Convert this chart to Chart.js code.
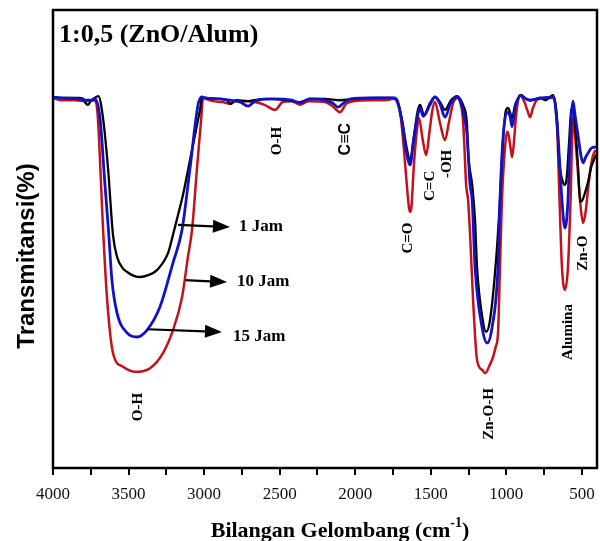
<!DOCTYPE html>
<html><head><meta charset="utf-8">
<script src="https://cdn.jsdelivr.net/npm/chart.js@4.4.1/dist/chart.umd.min.js"></script>
<style>html,body{margin:0;padding:0;background:#fff}#wrap{width:600px;height:541px}</style>
</head><body><div id="wrap"><canvas id="c" width="600" height="541"></canvas></div>
<script>
// ---- data (wavenumber cm-1, transmittance %) ----
const xTickValues = [500,750,1000,1250,1500,1750,2000,2250,2500,2750,3000,3250,3500,3750,4000];
const xTickLabels = [500,1000,1500,2000,2500,3000,3500,4000];

const jam1Black = [[4000,81.0],[3950,80.8],[3830,80.8],[3800,80.6],[3785,79.7],[3768,79.3],[3750,80.1],[3725,80.8],[3700,81.2],[3669,76.4],[3636,65.5],[3603,50.9],[3576,46.1],[3540,43.7],[3510,42.8],[3460,41.9],[3424,41.7],[3370,42.1],[3312,43.2],[3239,46.9],[3206,50.9],[3173,55.2],[3140,59.6],[3090,67.8],[3047,74.9],[3025,78.6],[3014,81.0],[2994,80.8],[2900,80.6],[2850,80.3],[2825,79.5],[2790,80.3],[2709,80.1],[2600,80.6],[2450,80.3],[2365,79.9],[2300,80.6],[2200,80.6],[2100,80.3],[2000,80.6],[1850,80.8],[1745,80.8],[1720,80.0],[1690,76.0],[1660,70.0],[1637,67.2],[1611,72.7],[1585,78.2],[1571,79.3],[1545,77.1],[1505,79.7],[1472,81.0],[1439,79.9],[1406,78.2],[1366,80.3],[1326,81.2],[1300,80.3],[1287,79.3],[1260,74.9],[1253,69.0],[1226,61.8],[1207,54.0],[1194,43.9],[1154,31.9],[1134,29.7],[1108,32.3],[1068,45.4],[1042,58.5],[1022,71.6],[1002,78.2],[989,78.6],[976,77.7],[962,76.4],[942,79.3],[920,80.8],[905,81.4],[870,80.6],[843,80.3],[800,80.6],[777,80.8],[740,80.3],[711,81.0],[691,81.4],[665,76.4],[650,67.0],[625,62.4],[612,61.8],[600,63.5],[585,71.0],[570,78.2],[559,78.6],[540,72.7],[525,65.5],[512,58.1],[500,58.3],[480,60.0],[459,62.5],[440,65.5],[426,66.8],[405,68.5]];

const jam10Red = [[4000,80.8],[3950,80.3],[3850,80.3],[3790,80.1],[3735,80.3],[3716,79.9],[3703,76.4],[3669,52.4],[3643,37.3],[3603,25.1],[3537,22.1],[3457,21.0],[3358,21.8],[3272,25.1],[3206,30.1],[3146,37.3],[3107,46.1],[3080,52.0],[3047,65.5],[3020,76.0],[3007,80.8],[2990,80.6],[2940,80.1],[2880,79.9],[2829,79.5],[2790,80.1],[2709,80.1],[2663,79.9],[2600,79.3],[2531,78.2],[2480,79.9],[2420,80.1],[2365,79.3],[2310,80.1],[2200,79.9],[2150,79.0],[2101,77.7],[2060,79.5],[2010,80.1],[1900,80.3],[1800,80.3],[1745,80.6],[1725,80.1],[1700,77.0],[1680,70.5],[1660,62.4],[1645,57.0],[1637,55.9],[1628,57.0],[1612,66.0],[1595,72.7],[1578,76.4],[1555,72.0],[1530,68.3],[1510,73.0],[1490,78.0],[1472,79.9],[1440,75.5],[1406,71.6],[1380,75.5],[1350,79.9],[1326,80.8],[1306,79.9],[1290,77.1],[1280,72.0],[1266,61.8],[1253,58.5],[1240,51.0],[1220,36.7],[1194,23.6],[1160,21.4],[1140,20.7],[1110,22.5],[1088,24.2],[1070,26.5],[1055,29.5],[1042,43.9],[1029,58.5],[1009,69.9],[995,73.4],[985,72.7],[970,69.4],[962,67.9],[950,71.0],[935,77.1],[909,81.4],[880,79.9],[860,78.0],[843,76.6],[825,78.5],[800,80.3],[777,80.6],[711,80.8],[691,80.8],[665,75.0],[648,58.5],[632,43.9],[612,38.9],[592,43.9],[575,58.5],[559,76.4],[540,70.5],[525,64.0],[505,56.0],[492,53.5],[475,56.0],[459,61.0],[440,66.0],[426,68.3],[410,69.4]];

const jam15Blue = [[4000,81.0],[3950,80.8],[3830,80.6],[3790,80.3],[3745,80.3],[3722,80.6],[3689,76.4],[3656,61.8],[3632,51.5],[3610,41.0],[3576,33.8],[3510,29.5],[3444,28.6],[3378,30.1],[3292,35.2],[3206,44.8],[3146,52.0],[3093,65.5],[3040,79.3],[3014,81.0],[2994,80.8],[2900,80.6],[2829,80.3],[2760,79.9],[2709,79.0],[2663,80.1],[2550,80.6],[2420,80.3],[2365,79.7],[2300,80.6],[2200,80.3],[2150,79.7],[2114,78.8],[2070,79.9],[2030,80.6],[1900,80.8],[1745,80.8],[1720,80.1],[1690,75.5],[1660,68.8],[1637,66.2],[1615,71.0],[1590,76.4],[1571,78.6],[1550,76.8],[1505,79.3],[1472,81.0],[1439,79.5],[1406,76.6],[1370,79.5],[1326,81.0],[1306,80.3],[1280,77.0],[1260,72.7],[1240,61.8],[1226,58.5],[1207,43.9],[1161,30.8],[1127,27.3],[1094,30.8],[1055,43.9],[1042,58.5],[1022,72.0],[995,77.7],[976,76.9],[962,74.5],[942,78.6],[920,80.8],[905,81.4],[870,80.6],[843,80.3],[777,80.8],[711,81.0],[691,81.2],[665,75.5],[645,65.5],[632,58.5],[612,52.4],[592,58.5],[580,70.0],[559,80.1],[545,77.0],[526,72.7],[505,68.0],[492,66.6],[475,67.9],[459,68.8],[435,69.9],[405,70.1]];

// ---- annotations (in data units) ----
const peakLabels = [
  {text:'O-H', wn:2518, t:71.4},
  {text:'C\u2261C', wn:2061, t:71.8, sans:true},
  {text:'C=O', wn:1651, t:50.2},
  {text:'C=C', wn:1505, t:61.6},
  {text:'-OH', wn:1393, t:66.4},
  {text:'Zn-O-H', wn:1115, t:11.8},
  {text:'Alumina', wn:592, t:29.7},
  {text:'Zn-O', wn:492, t:46.9},
  {text:'O-H', wn:3437, t:13.3}
];
const arrowLabels = [
  {text:'1 Jam', fromWn:3173, fromT:53.1, toWn:2829, toT:52.6, textWn:2769, textT:52.6},
  {text:'10 Jam', fromWn:3126, fromT:41.0, toWn:2848, toT:40.6, textWn:2782, textT:40.6},
  {text:'15 Jam', fromWn:3378, fromT:30.3, toWn:2882, toT:29.7, textWn:2809, textT:28.6}
];

const SERIF = '"Liberation Serif","Times New Roman",serif';
const SANS = '"Liberation Sans",Arial,sans-serif';

const toPts = arr => arr.map(p => ({x:p[0], y:p[1]}));

const decor = {
  id:'decor',
  afterDraw(chart){
    const {ctx, chartArea:a, scales:{x, y}} = chart;
    ctx.save();
    // frame
    ctx.strokeStyle = '#000'; ctx.lineWidth = 2.5;
    ctx.strokeRect(a.left, a.top, a.right - a.left, a.bottom - a.top);
    ctx.fillStyle = '#000';
    // title
    ctx.font = 'bold 26px ' + SERIF;
    ctx.textAlign = 'left'; ctx.textBaseline = 'alphabetic';
    ctx.fillText('1:0,5 (ZnO/Alum)', a.left + 6, a.top + 32);
    // peak labels (rotated)
    for (const l of peakLabels){
      ctx.save();
      ctx.translate(x.getPixelForValue(l.wn), y.getPixelForValue(l.t));
      ctx.rotate(-Math.PI/2);
      ctx.font = l.sans ? 'bold 16px ' + SANS : 'bold 15px ' + SERIF;
      ctx.textAlign = 'center'; ctx.textBaseline = 'middle';
      ctx.fillText(l.text, 0, 0);
      ctx.restore();
    }
    // arrows
    for (const l of arrowLabels){
      const x1 = x.getPixelForValue(l.fromWn), y1 = y.getPixelForValue(l.fromT);
      const x2 = x.getPixelForValue(l.toWn), y2 = y.getPixelForValue(l.toT);
      const ang = Math.atan2(y2 - y1, x2 - x1), hl = 17, hw = 6.5;
      const bx = x2 - hl*Math.cos(ang), by = y2 - hl*Math.sin(ang);
      ctx.lineWidth = 2.2;
      ctx.beginPath(); ctx.moveTo(x1, y1); ctx.lineTo(bx, by); ctx.stroke();
      ctx.beginPath();
      ctx.moveTo(x2, y2);
      ctx.lineTo(bx + hw*Math.sin(ang), by - hw*Math.cos(ang));
      ctx.lineTo(bx - hw*Math.sin(ang), by + hw*Math.cos(ang));
      ctx.closePath(); ctx.fill();
      ctx.font = 'bold 17px ' + SERIF;
      ctx.textAlign = 'left'; ctx.textBaseline = 'middle';
      ctx.fillText(l.text, x.getPixelForValue(l.textWn), y.getPixelForValue(l.textT));
    }
    // y title
    ctx.save();
    ctx.translate(27, (a.top + a.bottom)/2 + 17);
    ctx.rotate(-Math.PI/2);
    ctx.font = 'bold 24px ' + SANS;
    ctx.textAlign = 'center'; ctx.textBaseline = 'middle';
    ctx.fillText('Transmitansi(%)', 0, 0);
    ctx.restore();
    // x title with superscript
    ctx.font = 'bold 22px ' + SERIF;
    const p1 = 'Bilangan Gelombang (cm', sup = '-1', p2 = ')';
    const w1 = ctx.measureText(p1).width, w3 = ctx.measureText(p2).width;
    ctx.font = 'bold 14px ' + SERIF;
    const w2 = ctx.measureText(sup).width;
    const total = w1 + w2 + w3;
    let cx = (a.left + a.right)/2 + 15 - total/2;
    const base = 537;
    ctx.textAlign = 'left'; ctx.textBaseline = 'alphabetic';
    ctx.font = 'bold 22px ' + SERIF; ctx.fillText(p1, cx, base); cx += w1;
    ctx.font = 'bold 14px ' + SERIF; ctx.fillText(sup, cx, base - 10); cx += w2;
    ctx.font = 'bold 22px ' + SERIF; ctx.fillText(p2, cx, base);
    ctx.restore();
  }
};

const ds = (label, data, color, w) => ({
  label, data: toPts(data), borderColor: color, backgroundColor: color,
  borderWidth: w, pointRadius: 0, fill: false, cubicInterpolationMode: 'monotone'
});

new Chart(document.getElementById('c'), {
  type: 'line',
  data: { datasets: [
    ds('15 Jam', jam15Blue, '#1212c4', 2.8),
    ds('1 Jam', jam1Black, '#000000', 2.3),
    ds('10 Jam', jam10Red, '#c2121c', 2.5)
  ]},
  options: {
    responsive: false, animation: false, devicePixelRatio: 1,
    layout: { padding: { left: 53, right: 3, top: 10, bottom: 0 } },
    plugins: { legend: { display: false }, tooltip: { enabled: false } },
    scales: {
      x: {
        type: 'linear', reverse: true, min: 400, max: 4000,
        afterBuildTicks: s => { s.ticks = xTickValues.map(v => ({value: v})); },
        afterFit: s => { s.height = 73; },
        ticks: {
          autoSkip: false, maxRotation: 0, padding: 9, color: '#111',
          font: { family: SERIF, size: 17 },
          callback: v => xTickLabels.includes(v) ? String(v) : ''
        },
        grid: { display: true, drawOnChartArea: false, drawTicks: true, tickLength: 7, color: '#000', lineWidth: 2 },
        border: { display: false }
      },
      y: { type: 'linear', display: false, min: 0, max: 100 }
    }
  },
  plugins: [decor]
});
</script>
</body></html>
